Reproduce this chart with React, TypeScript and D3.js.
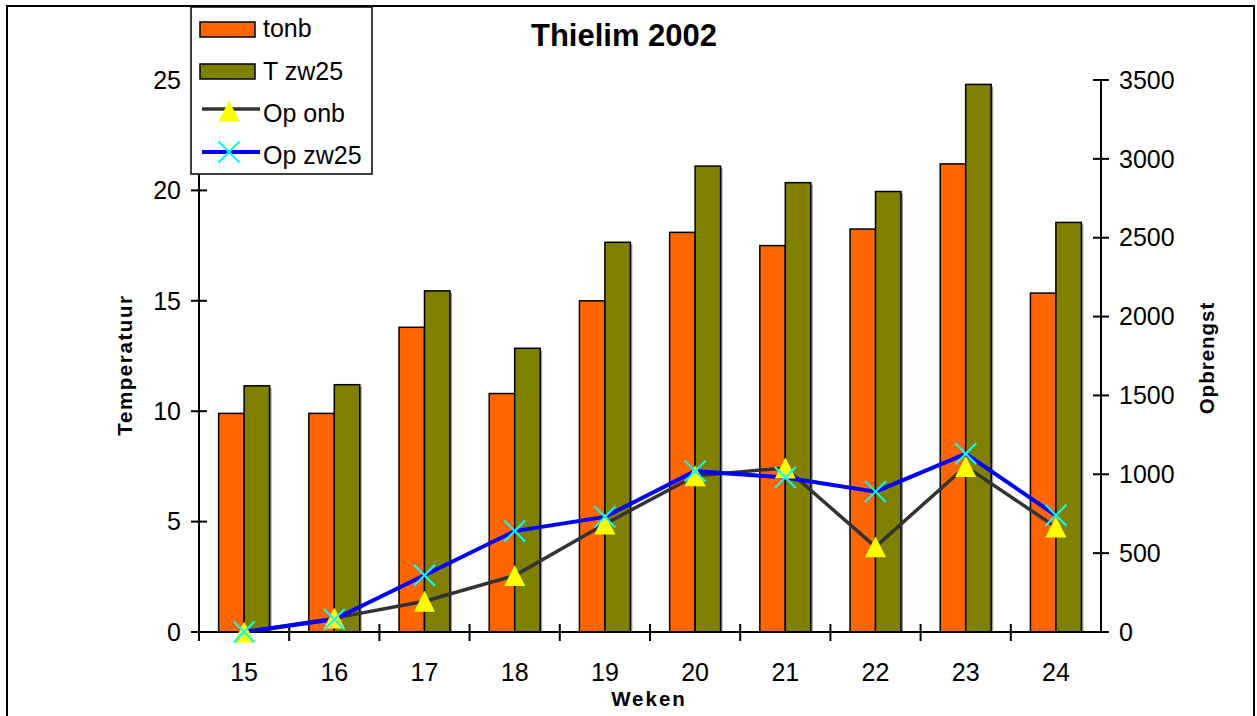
import React from "react";
import * as d3 from "d3";

const weeks = ["15", "16", "17", "18", "19", "20", "21", "22", "23", "24"];
const tonb = [9.9, 9.9, 13.8, 10.8, 15.0, 18.1, 17.5, 18.25, 21.2, 15.35];
const tzw25 = [11.15, 11.2, 15.45, 12.85, 17.65, 21.1, 20.35, 19.95, 24.8, 18.55];
const opOnb = [0, 88, 195, 358, 685, 990, 1040, 540, 1050, 665];
const opZw25 = [0, 80, 360, 640, 730, 1020, 980, 890, 1130, 740];
const leftTicks = [0, 5, 10, 15, 20, 25];
const rightTicks = [0, 500, 1000, 1500, 2000, 2500, 3000, 3500];
const barSeries = ["tonb", "T zw25"];

const W = 1257;
const H = 716;
const FONT = "Arial, 'Liberation Sans', sans-serif";

export default function App() {
  const x = d3.scaleBand<string>().domain(weeks).range([199, 1101]).paddingInner(0).paddingOuter(0);
  const xi = d3.scaleBand<string>().domain(barSeries).range([0, x.bandwidth()]).paddingInner(0).paddingOuter(0.77);
  const yL = d3.scaleLinear().domain([0, 25]).range([632, 80]);
  const yR = d3.scaleLinear().domain([0, 3500]).range([632, 80]);
  const cx = (w: string) => (x(w) as number) + x.bandwidth() / 2;

  const lineGen = d3
    .line<number>()
    .x((_, i) => cx(weeks[i]))
    .y((d) => yR(d));

  const barColors = ["#FF6600", "#808000"];
  const barData = [tonb, tzw25];

  const tri = (px: number, py: number, key: string) => {
    const s = 10.5;
    return (
      <path
        key={key}
        d={`M${px},${py - s}L${px + s},${py + s}L${px - s},${py + s}Z`}
        fill="#FFFF00"
      />
    );
  };
  const cross = (px: number, py: number, key: string) => {
    const s = 10.5;
    return (
      <path
        key={key}
        d={`M${px - s},${py - s}L${px + s},${py + s}M${px - s},${py + s}L${px + s},${py - s}`}
        stroke="#00FFFF"
        strokeWidth={2}
        fill="none"
      />
    );
  };

  const yAxisL = yL.range();
  return (
    <svg
      width={W}
      height={H}
      style={{ position: "absolute", left: 0, top: 0, background: "#fff" }}
      fontFamily={FONT}
    >
      <rect x={0} y={0} width={W} height={H} fill="#fff" />
      {/* outer frame */}
      <rect x={7} y={6} width={1247} height={730} fill="none" stroke="#000" strokeWidth={2} />

      {/* bars */}
      {barData.map((series, si) =>
        series.map((v, i) => {
          const bx = (x(weeks[i]) as number) + (xi(barSeries[si]) as number);
          const by = yL(v);
          const bh = yL(0) - by;
          return (
            <g key={`b${si}-${i}`}>
              <rect x={bx + 2} y={by + 2} width={xi.bandwidth()} height={bh - 2} fill="#999" />
              <rect x={bx} y={by} width={xi.bandwidth()} height={bh} fill={barColors[si]} stroke="#000" strokeWidth={1.5} />
            </g>
          );
        })
      )}

      {/* left axis */}
      <line x1={199} x2={199} y1={yAxisL[1]} y2={yAxisL[0]} stroke="#000" strokeWidth={2} />
      {leftTicks.map((t) => (
        <g key={`lt${t}`}>
          <line x1={191} x2={207} y1={yL(t)} y2={yL(t)} stroke="#000" strokeWidth={2} />
          <text x={181} y={yL(t)} dy="0.35em" textAnchor="end" fontSize={25}>
            {t}
          </text>
        </g>
      ))}

      {/* right axis */}
      <line x1={1101} x2={1101} y1={80} y2={632} stroke="#000" strokeWidth={2} />
      {rightTicks.map((t) => (
        <g key={`rt${t}`}>
          <line x1={1093} x2={1109} y1={yR(t)} y2={yR(t)} stroke="#000" strokeWidth={2} />
          <text x={1119} y={yR(t)} dy="0.35em" textAnchor="start" fontSize={25}>
            {t}
          </text>
        </g>
      ))}

      {/* x axis */}
      <line x1={199} x2={1101} y1={632} y2={632} stroke="#000" strokeWidth={2} />
      {weeks.map((w) => (
        <g key={`xt${w}`}>
          <line x1={x(w) as number} x2={x(w) as number} y1={624} y2={641} stroke="#000" strokeWidth={2} />
          <text x={cx(w)} y={681} textAnchor="middle" fontSize={25}>
            {w}
          </text>
        </g>
      ))}

      {/* lines */}
      <path d={lineGen(opOnb) || ""} fill="none" stroke="#333333" strokeWidth={3.5} />
      <path d={lineGen(opZw25) || ""} fill="none" stroke="#0000FF" strokeWidth={4} />
      {opOnb.map((v, i) => tri(cx(weeks[i]), yR(v), `tr${i}`))}
      {opZw25.map((v, i) => cross(cx(weeks[i]), yR(v), `cr${i}`))}

      {/* title */}
      <text x={624} y={46} textAnchor="middle" fontSize={31} fontWeight="bold">
        Thielim 2002
      </text>

      {/* axis titles */}
      <text x={649} y={706} textAnchor="middle" fontSize={20.5} fontWeight="bold" letterSpacing={2}>
        Weken
      </text>
      <text
        transform="translate(132,365) rotate(-90)"
        textAnchor="middle"
        fontSize={20.5}
        fontWeight="bold"
        letterSpacing={1.6}
      >
        Temperatuur
      </text>
      <text
        transform="translate(1214,358) rotate(-90)"
        textAnchor="middle"
        fontSize={20.5}
        fontWeight="bold"
        letterSpacing={1}
      >
        Opbrengst
      </text>

      {/* legend */}
      <rect x={191} y={7} width={181} height={167} fill="#fff" stroke="#000" strokeWidth={1.5} />
      <rect x={200} y={22} width={55} height={15} fill="#FF6600" stroke="#000" strokeWidth={1.5} />
      <text x={263} y={37} fontSize={25}>tonb</text>
      <rect x={200} y={64} width={55} height={15} fill="#808000" stroke="#000" strokeWidth={1.5} />
      <text x={263} y={80} fontSize={25}>T zw25</text>
      <line x1={202} x2={260} y1={109} y2={109} stroke="#333333" strokeWidth={3.5} />
      {tri(229, 111, "lt")}
      <text x={263} y={122} fontSize={25}>Op onb</text>
      <line x1={202} x2={260} y1={152} y2={152} stroke="#0000FF" strokeWidth={4} />
      {cross(229, 152, "lc")}
      <text x={263} y={164} fontSize={25}>Op zw25</text>
    </svg>
  );
}
